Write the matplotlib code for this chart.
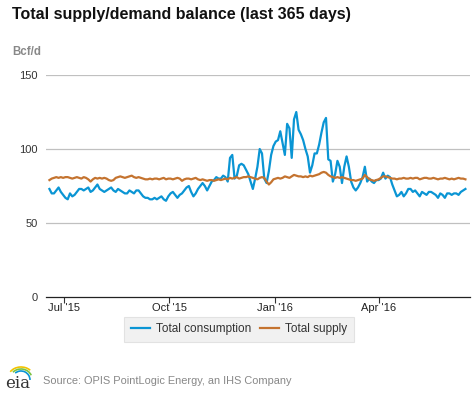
import matplotlib
matplotlib.use("Agg")
import matplotlib.pyplot as plt
import numpy as np
import pandas as pd
from matplotlib.patches import Arc

plt.rcParams['font.family'] = ['Liberation Sans', 'DejaVu Sans']

title = "Total supply/demand balance (last 365 days)"
unit = "Bcf/d"
source = "Source: OPIS PointLogic Energy, an IHS Company"
series_names = ["Total consumption", "Total supply"]
tick_dates = ["2015-07-01", "2015-10-01", "2016-01-01", "2016-04-01"]
tick_labels = ["Jul '15", "Oct '15", "Jan '16", "Apr '16"]
y_ticks = [0, 50, 100, 150]
start_date = "2015-06-18"

consumption = [
    73, 70, 70, 72, 74, 71, 69, 67, 66, 70, 68, 69, 71, 73, 73, 72, 73, 74, 71, 72,
    74, 76, 73, 72, 71, 72, 73, 74, 72, 71, 73, 72, 71, 70, 70, 72, 71, 70, 72, 72,
    70, 68, 67, 67, 66, 66, 67, 66, 67, 68, 66, 65, 68, 70, 71, 69, 67, 69, 70, 72,
    74, 75, 71, 68, 70, 73, 75, 77, 75, 72, 75, 78, 79, 81, 80, 80, 82, 81, 78, 94,
    96, 80, 82, 89, 90, 89, 86, 83, 78, 73, 80, 88, 100, 97, 80, 77, 85, 96, 102, 105,
    106, 112, 104, 96, 117, 114, 94, 120, 125, 113, 110, 106, 100, 95, 84, 89, 97, 97, 103, 111,
    118, 121, 93, 92, 78, 83, 92, 88, 77, 88, 95, 88, 78, 74, 72, 74, 77, 81, 88, 78,
    80, 78, 77, 79, 79, 80, 84, 80, 82, 81, 76, 72, 68, 69, 71, 68, 70, 73, 73, 71,
    72, 70, 68, 71, 70, 69, 71, 71, 70, 69, 67, 70, 69, 67, 70, 70, 69, 70, 70, 69,
    71, 72, 73,
]

supply = [
    79, 80, 80.5, 81, 80.5, 81, 80.5, 81, 81, 80.5, 80, 80.5, 81, 80.5, 80, 81, 80.5, 79.5, 78, 79.5,
    80.5, 80, 80.5, 80, 80.5, 80, 79, 78.5, 79, 80.5, 81, 81.5, 81, 80.5, 81, 81.5, 82, 81, 80.5, 81,
    80.5, 80, 79.5, 79.5, 80, 79.5, 80, 80, 79.5, 80, 80.5, 79.5, 80, 80, 79.5, 80, 80.5, 80, 78.5, 79.5,
    80, 80, 79.5, 80, 80.5, 79.5, 79, 79.5, 79, 78.5, 79, 79, 78.5, 79, 79.5, 79, 79.5, 80, 79.5, 80.5,
    80, 80.5, 81, 80, 80.5, 81, 81, 81.5, 81, 80.5, 80, 79.5, 80.5, 81, 80.5, 78, 76, 77.5, 79.5, 80,
    80.5, 80, 80.5, 81.5, 81, 80.5, 81.5, 82.5, 82, 81.5, 81.5, 81, 81.5, 81, 82, 81.5, 82, 82.5, 83, 84,
    84.5, 84, 82.5, 81.5, 81, 80.5, 81, 80.5, 81, 80.5, 80, 79.5, 79, 79, 78.5, 79, 79.5, 80, 82.5, 81,
    79.5, 79, 78.5, 79, 79.5, 80.5, 81.5, 81.5, 81, 80.5, 80, 80, 79.5, 80, 80, 80.5, 80, 80, 80.5, 80,
    80.5, 80.5, 79.5, 80, 80.5, 80.5, 80, 80, 80.5, 80, 79.5, 80, 80, 80.5, 80, 79.5, 80, 79.5, 80, 80.5,
    80, 80, 79.5,
]

W, H = 477, 393
fig = plt.figure(figsize=(W / 100, H / 100), dpi=100)
fig.patch.set_facecolor("white")

ax = fig.add_axes([46 / W, 1 - 297 / H, (470 - 46) / W, (297 - 75) / H])
ax.set_facecolor("white")

d_cons = pd.date_range(start_date, periods=len(consumption), freq="2D")
d_sup = pd.date_range(start_date, periods=len(supply), freq="2D")

blue = "#0a95d4"
orange = "#c4732f"
ax.plot(d_cons, consumption, color=blue, lw=1.6, solid_joinstyle="round", zorder=3)
ax.plot(d_sup, supply, color=orange, lw=1.6, solid_joinstyle="round", zorder=3)

ax.set_ylim(0, 150)
ax.set_xlim(pd.Timestamp("2015-06-15"), pd.Timestamp("2016-06-20"))
ax.set_yticks(y_ticks)
ax.set_yticklabels([str(v) for v in y_ticks], fontsize=8, color="#333333")
ax.tick_params(axis="y", length=0, pad=6)
for v in y_ticks[1:]:
    ax.axhline(v, color="#c0c0c0", lw=0.9, zorder=1)

ax.set_xticks([pd.Timestamp(d) for d in tick_dates])
ax.set_xticklabels(tick_labels, fontsize=8, color="#222222")
ax.tick_params(axis="x", length=4, width=0.8, color="#333333", pad=0.5, direction="out")

for s in ["top", "right", "left"]:
    ax.spines[s].set_visible(False)
ax.spines["bottom"].set_color("#222222")
ax.spines["bottom"].set_linewidth(0.9)

# Title and unit
fig.text(12 / W, 1 - 15 / H, title, fontsize=11.5, fontweight="bold", color="#111111",
         ha="left", va="center")
fig.text(12 / W, 1 - 52 / H, unit, fontsize=8.3, fontweight="bold", color="#888888",
         ha="left", va="center")

# Legend (centred on the figure)
leg = fig.legend(ax.get_lines(), series_names, loc="upper center",
                 bbox_to_anchor=(239 / W, 1 - 317 / H), ncol=2,
                 frameon=True, fontsize=8.5, handlelength=1.6, handletextpad=0.5,
                 columnspacing=0.8, borderpad=0.55, fancybox=False, borderaxespad=0)
leg.get_frame().set_facecolor("#eeeeee")
leg.get_frame().set_edgecolor("#dddddd")
leg.get_frame().set_linewidth(0.8)
for t in leg.get_texts():
    t.set_color("#333333")

# Source + eia logo
fig.text(43 / W, 1 - 381 / H, source, fontsize=7.9, color="#888888", ha="left", va="center")
fig.text(5 / W, 1 - 383 / H, "eia", fontsize=12, family="DejaVu Serif", color="#333333",
         ha="left", va="center")
lax = fig.add_axes([5 / W, 1 - 380 / H, 28 / W, 16 / H])
lax.set_xlim(0, 28)
lax.set_ylim(0, 16)
lax.axis("off")
lax.add_patch(Arc((16, 2), 26, 22, theta1=40, theta2=150, color="#f2c300", lw=1.2))
lax.add_patch(Arc((16, 1), 22, 20, theta1=20, theta2=140, color="#7cc242", lw=1.2))
lax.add_patch(Arc((16, 0), 18, 18, theta1=0, theta2=130, color="#0a95d4", lw=1.2))

fig.savefig("out.png", dpi=100)
